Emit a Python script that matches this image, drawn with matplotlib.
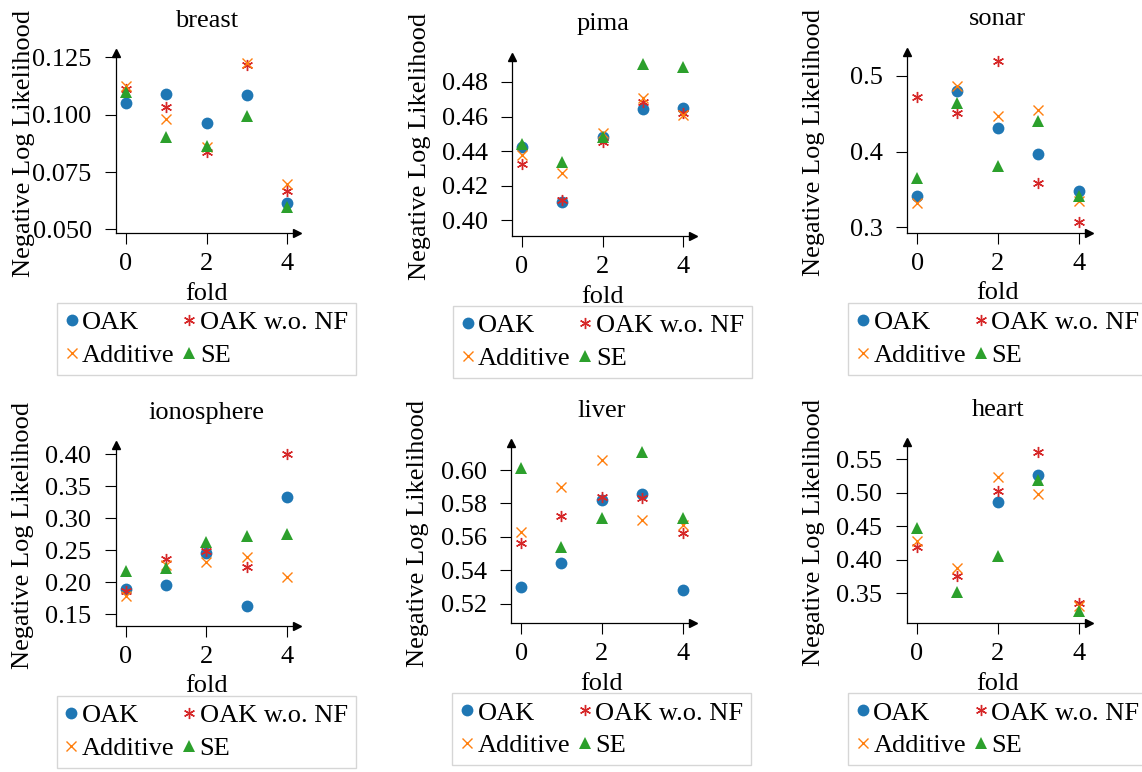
import numpy as np
import matplotlib
matplotlib.use("Agg")
import matplotlib.pyplot as plt
from matplotlib.ticker import FormatStrFormatter

plt.rcParams['font.family'] = ['Liberation Serif', 'DejaVu Serif']
plt.rcParams['font.size'] = 19

folds = [0, 1, 2, 3, 4]
series_names = ["OAK", "OAK w.o. NF", "Additive", "SE"]
datasets = ["breast", "pima", "sonar", "ionosphere", "liver", "heart"]

breast_oak = [0.1052, 0.1090, 0.0962, 0.1086, 0.0613]
breast_oaknf = [0.1110, 0.1032, 0.0836, 0.1217, 0.0667]
breast_add = [0.1125, 0.0981, 0.0860, 0.1227, 0.0696]
breast_se = [0.1097, 0.0904, 0.0865, 0.0994, 0.0599]

pima_oak = [0.4422, 0.4108, 0.4484, 0.4642, 0.4648]
pima_oaknf = [0.4326, 0.4118, 0.4455, 0.4686, 0.4619]
pima_add = [0.4378, 0.4276, 0.4503, 0.4706, 0.4609]
pima_se = [0.4441, 0.4339, 0.4484, 0.4904, 0.4885]

sonar_oak = [0.3413, 0.4802, 0.4314, 0.3963, 0.3484]
sonar_oaknf = [0.4723, 0.4512, 0.5193, 0.3589, 0.3066]
sonar_add = [0.3325, 0.4864, 0.4473, 0.4547, 0.3352]
sonar_se = [0.3646, 0.4644, 0.3813, 0.4407, 0.3418]

iono_oak = [0.1896, 0.1964, 0.2453, 0.1635, 0.3328]
iono_oaknf = [0.1865, 0.2365, 0.2490, 0.2245, 0.4000]
iono_add = [0.1786, 0.2271, 0.2323, 0.2396, 0.2089]
iono_se = [0.2177, 0.2229, 0.2625, 0.2724, 0.2755]

liver_oak = [0.5302, 0.5441, 0.5820, 0.5854, 0.5282]
liver_oaknf = [0.5561, 0.5727, 0.5836, 0.5830, 0.5625]
liver_add = [0.5627, 0.5896, 0.6058, 0.5701, 0.5671]
liver_se = [0.6010, 0.5541, 0.5715, 0.6110, 0.5715]

heart_oak = [np.nan, np.nan, 0.4855, 0.5262, np.nan]
heart_oaknf = [0.4185, 0.3758, 0.5024, 0.5599, 0.3351]
heart_add = [0.4279, 0.3882, 0.5227, 0.4984, 0.3311]
heart_se = [0.4468, 0.3515, 0.4061, 0.5182, 0.3237]

all_data = {
    "breast": [breast_oak, breast_oaknf, breast_add, breast_se],
    "pima": [pima_oak, pima_oaknf, pima_add, pima_se],
    "sonar": [sonar_oak, sonar_oaknf, sonar_add, sonar_se],
    "ionosphere": [iono_oak, iono_oaknf, iono_add, iono_se],
    "liver": [liver_oak, liver_oaknf, liver_add, liver_se],
    "heart": [heart_oak, heart_oaknf, heart_add, heart_se],
}

yticks = {
    "breast": [0.050, 0.075, 0.100, 0.125],
    "pima": [0.40, 0.42, 0.44, 0.46, 0.48],
    "sonar": [0.3, 0.4, 0.5],
    "ionosphere": [0.15, 0.20, 0.25, 0.30, 0.35, 0.40],
    "liver": [0.52, 0.54, 0.56, 0.58, 0.60],
    "heart": [0.35, 0.40, 0.45, 0.50, 0.55],
}
yfmt = {"breast": "%.3f", "pima": "%.2f", "sonar": "%.1f",
        "ionosphere": "%.2f", "liver": "%.2f", "heart": "%.2f"}
ylims = {
    "breast": (0.0484, 0.1269),
    "pima": (0.3909, 0.4946),
    "sonar": (0.2929, 0.5317),
    "ionosphere": (0.1322, 0.4145),
    "liver": (0.5083, 0.6160),
    "heart": (0.3053, 0.5749),
}
# layout boxes in pixels: left, right, top, bottom
boxes = {
    "breast": (116, 297, 53, 233),
    "pima": (512, 693, 56.7, 236),
    "sonar": (907, 1088.7, 51.7, 232.7),
    "ionosphere": (115.7, 297, 445, 625.7),
    "liver": (511, 692.7, 443.3, 623.3),
    "heart": (906.7, 1088.7, 442.3, 623.3),
}

W, H = 1142, 772
fig = plt.figure(figsize=(W / 100, H / 100), dpi=100)

styles = [
    dict(marker='o', color='#1f77b4', ms=8.5, mew=0),
    dict(marker=(6, 2, 0), color='#d62728', ms=8, mew=1.0),
    dict(marker='x', color='#ff7f0e', ms=6.5, mew=1.0),
    dict(marker='^', color='#2ca02c', ms=8, mew=0),
]

for name in datasets:
    l, r, t, b = boxes[name]
    ax = fig.add_axes([l / W, 1 - b / H, (r - l) / W, (b - t) / H])
    handles = []
    for vals, lab, st in zip(all_data[name], series_names, styles):
        h, = ax.plot(folds, vals, linestyle='none', label=lab, clip_on=False, **st)
        handles.append(h)
    ax.set_xlim(-0.25, 4.25)
    ax.set_ylim(*ylims[name])
    ax.set_xticks([0, 2, 4])
    ax.set_yticks(yticks[name])
    ax.yaxis.set_major_formatter(FormatStrFormatter(yfmt[name]))
    for s in ['top', 'right']:
        ax.spines[s].set_visible(False)
    for s in ['left', 'bottom']:
        ax.spines[s].set_linewidth(0.9)
    ax.tick_params(axis='both', direction='out', length=8, width=0.8)
    ax.tick_params(axis='y', pad=9.5)
    ax.tick_params(axis='x', pad=6.5)
    ax.plot(1, 0, marker='>', color='k', ms=6, transform=ax.transAxes, clip_on=False)
    ax.plot(0, 1, marker='^', color='k', ms=6, transform=ax.transAxes, clip_on=False)
    ax.set_title(name, pad=19, fontsize=19)
    ax.set_xlabel("fold", labelpad=5.5)
    ax.set_ylabel("Negative Log Likelihood")
    ax.yaxis.set_label_coords(-0.45, 0.5)
    ah = b - t
    order = [0, 2, 1, 3]
    leg = ax.legend(handles=[handles[i] for i in order], loc='upper center',
                    bbox_to_anchor=(0.5, -70 / ah),
                    ncol=2, frameon=True, fancybox=False, edgecolor='#cccccc',
                    handlelength=0.5, handletextpad=0.15, columnspacing=0.3,
                    borderpad=0.3, labelspacing=0.35, borderaxespad=0, fontsize=19)
    leg.get_frame().set_linewidth(1.0)

fig.savefig("out.png", dpi=100)
